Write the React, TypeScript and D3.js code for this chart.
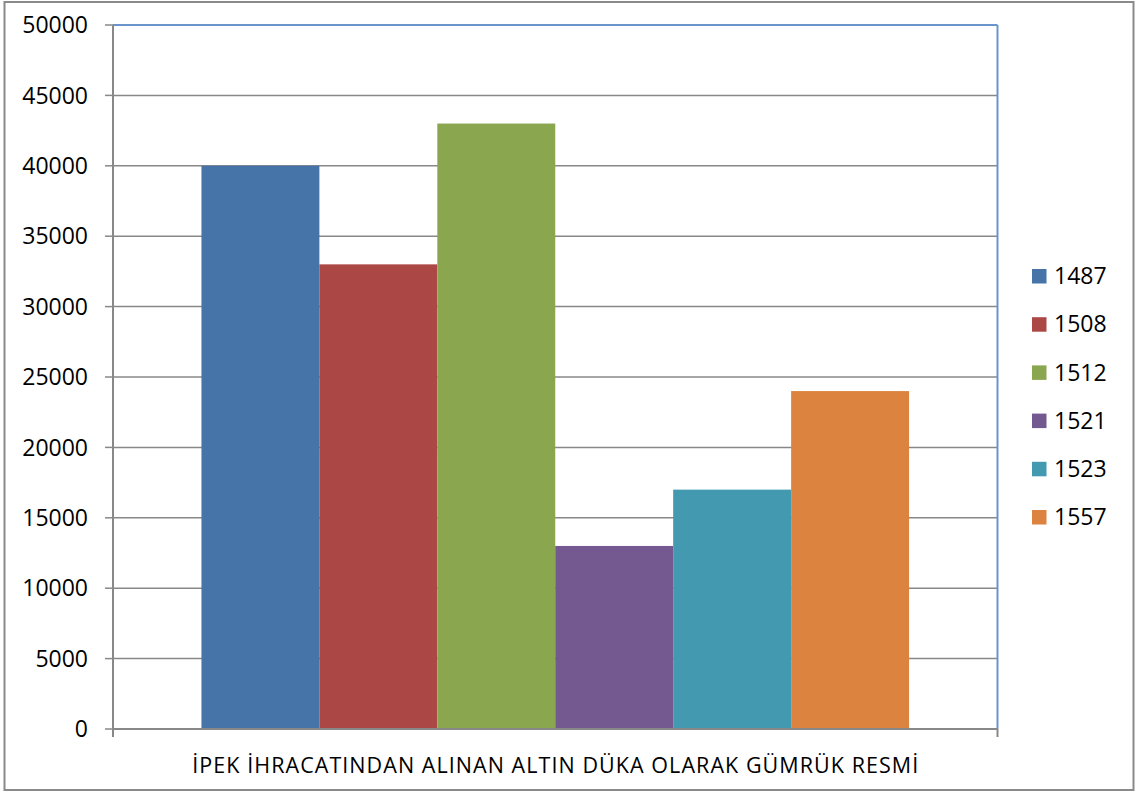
import React from "react";
import * as d3 from "d3";

// Customs duty in gold ducats from silk exports, by year
const years = ["1487", "1508", "1512", "1521", "1523", "1557"];
const values = [40000, 33000, 43000, 13000, 17000, 24000];
const colors = ["#4674A8", "#AB4744", "#8AA64F", "#735990", "#4299B0", "#DC843F"];
const yTicks = [0, 5000, 10000, 15000, 20000, 25000, 30000, 35000, 40000, 45000, 50000];
const category = "İPEK İHRACATINDAN ALINAN ALTIN DÜKA OLARAK GÜMRÜK RESMİ";

const W = 1137;
const H = 792;
const plot = { left: 113, right: 997.5, top: 25, bottom: 729 };
const font = "'Open Sans', 'Liberation Sans', sans-serif";

export default function App() {
  React.useEffect(() => {
    document.body.style.margin = "0";
  }, []);

  const y = d3.scaleLinear().domain([0, 50000]).range([plot.bottom, plot.top]);
  // One category group; gap width 150% of a bar on each side in total
  const plotW = plot.right - plot.left;
  const barW = plotW / (years.length + 1.5);
  const groupStart = plot.left + (plotW - barW * years.length) / 2;
  const x = d3
    .scaleBand<string>()
    .domain(years)
    .range([groupStart, groupStart + barW * years.length])
    .padding(0);

  const legendY = d3.scalePoint<string>().domain(years).range([276, 517]);

  return (
    <svg width={W} height={H} style={{ display: "block", background: "#fff" }}>
      <rect x={4.5} y={2} width={1129} height={788} fill="#fff" stroke="#8A8A8A" strokeWidth={2} />

      {/* gridlines and y ticks */}
      {yTicks.map((t) => (
        <g key={t}>
          {t > 0 && t < 50000 && (
            <line x1={plot.left} x2={plot.right} y1={y(t)} y2={y(t)} stroke="#888" strokeWidth={1.5} />
          )}
          <line x1={plot.left - 8} x2={plot.left} y1={y(t)} y2={y(t)} stroke="#888" strokeWidth={1.5} />
          <text
            x={88}
            y={y(t)}
            dy="0.36em"
            textAnchor="end"
            fontFamily={font}
            fontSize={23}
            fill="#000"
          >
            {t}
          </text>
        </g>
      ))}

      {/* plot area border: top and right */}
      <line x1={plot.left} x2={plot.right} y1={plot.top} y2={plot.top} stroke="#6A95CC" strokeWidth={2} />
      <line x1={plot.right} x2={plot.right} y1={plot.top} y2={plot.bottom} stroke="#6A95CC" strokeWidth={2} />

      {/* bars */}
      {years.map((yr, i) => (
        <rect
          key={yr}
          x={x(yr)}
          y={y(values[i])}
          width={x.bandwidth()}
          height={y(0) - y(values[i])}
          fill={colors[i]}
        />
      ))}

      {/* axes */}
      <line x1={plot.left} x2={plot.left} y1={plot.top} y2={plot.bottom + 8} stroke="#888" strokeWidth={2} />
      <line x1={plot.left} x2={plot.right} y1={plot.bottom} y2={plot.bottom} stroke="#888" strokeWidth={2} />
      <line x1={plot.right} x2={plot.right} y1={plot.bottom} y2={plot.bottom + 8} stroke="#888" strokeWidth={2} />

      <text
        x={(plot.left + plot.right) / 2}
        y={765}
        dy="0.36em"
        textAnchor="middle"
        fontFamily={font}
        fontSize={21.5}
        textLength={726}
        lengthAdjust="spacing"
        fill="#000"
      >
        {category}
      </text>

      {/* legend */}
      {years.map((yr, i) => (
        <g key={yr} transform={`translate(1032, ${legendY(yr)})`}>
          <rect x={0} y={-7} width={14.5} height={14.5} fill={colors[i]} />
          <text x={22} y={0} dy="0.36em" fontFamily={font} fontSize={23} fill="#000">
            {yr}
          </text>
        </g>
      ))}
    </svg>
  );
}
